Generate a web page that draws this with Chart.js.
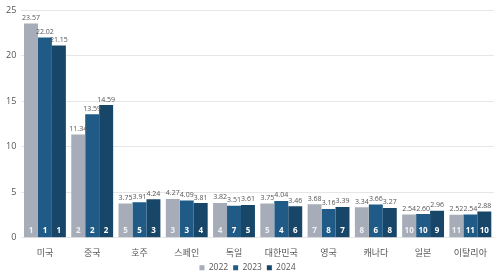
<!DOCTYPE html>
<html>
<head>
<meta charset="utf-8">
<script src="https://cdn.jsdelivr.net/npm/chart.js@4/dist/chart.umd.min.js"></script>
<style>
    html, body { margin: 0; padding: 0; background: #fff; }
    #wrap { width: 500px; height: 276px; }
</style>
</head>
<body>
<div id="wrap"><canvas id="barChart"></canvas></div>
<script>
var countries = ['미국', '중국', '호주', '스페인', '독일', '대한민국', '영국', '캐나다', '일본', '이탈리아'];
var years = ['2022', '2023', '2024'];
var values2022 = [23.57, 11.34, 3.75, 4.27, 3.82, 3.75, 3.68, 3.34, 2.54, 2.52];
var values2023 = [22.02, 13.59, 3.91, 4.09, 3.51, 4.04, 3.16, 3.66, 2.60, 2.54];
var values2024 = [21.15, 14.59, 4.24, 3.81, 3.61, 3.46, 3.39, 3.27, 2.96, 2.88];
var ranks2022 = [1, 2, 5, 3, 4, 5, 7, 8, 10, 11];
var ranks2023 = [1, 2, 5, 3, 7, 4, 8, 6, 10, 11];
var ranks2024 = [1, 2, 3, 4, 5, 6, 7, 8, 9, 10];
var yTicks = [0, 5, 10, 15, 20, 25];

var colors = ['#a6adb8', '#1f5b86', '#184669'];

// value on top of each bar, rank at the bottom inside it
var barLabels = {
    id: 'barLabels',
    afterDatasetsDraw: function (chart) {
        var ctx = chart.ctx;
        var ranks = [ranks2022, ranks2023, ranks2024];
        ctx.save();
        ctx.textAlign = 'center';
        chart.data.datasets.forEach(function (ds, di) {
            var meta = chart.getDatasetMeta(di);
            meta.data.forEach(function (bar, i) {
                ctx.fillStyle = '#555';
                ctx.font = '7px "Open Sans", sans-serif';
                ctx.textBaseline = 'bottom';
                ctx.fillText(ds.data[i].toFixed(2), bar.x, bar.y - 2);

                ctx.fillStyle = di === 0 ? '#eef0f3' : '#ffffff';
                ctx.font = 'bold 8px "Open Sans", sans-serif';
                ctx.textBaseline = 'middle';
                ctx.fillText(String(ranks[di][i]), bar.x, bar.base - 6);
            });
        });
        ctx.restore();
    }
};

var ctx = document.getElementById('barChart').getContext('2d');
var barChart = new Chart(ctx, {
    type: 'bar',
    data: {
        labels: countries,
        datasets: [
            { label: years[0], data: values2022, backgroundColor: colors[0] },
            { label: years[1], data: values2023, backgroundColor: colors[1] },
            { label: years[2], data: values2024, backgroundColor: colors[2] }
        ]
    },
    options: {
        responsive: true,
        maintainAspectRatio: false,
        animation: false,
        datasets: {
            bar: { categoryPercentage: 0.886, barPercentage: 1.0 }
        },
        layout: { padding: { top: 3, left: 1, right: 6, bottom: -6 } },
        plugins: {
            legend: {
                position: 'bottom',
                labels: {
                    boxWidth: 5,
                    boxHeight: 5,
                    padding: 5,
                    color: '#555',
                    font: { size: 8.5, family: '"Open Sans", sans-serif' }
                }
            },
            tooltip: { enabled: false }
        },
        scales: {
            x: {
                grid: { display: false },
                border: { display: false },
                ticks: {
                    color: '#555',
                    padding: 1,
                    font: { size: 9, family: '"Noto Sans CJK KR", sans-serif' }
                }
            },
            y: {
                min: 0,
                max: 25,
                afterBuildTicks: function (axis) {
                    axis.ticks = yTicks.map(function (v) { return { value: v }; });
                },
                grid: { color: '#e6e6e6', drawTicks: false },
                border: { display: false },
                ticks: {
                    color: '#555',
                    padding: 5,
                    font: { size: 9, family: '"Open Sans", sans-serif' }
                }
            }
        }
    },
    plugins: [barLabels]
});
</script>
</body>
</html>
